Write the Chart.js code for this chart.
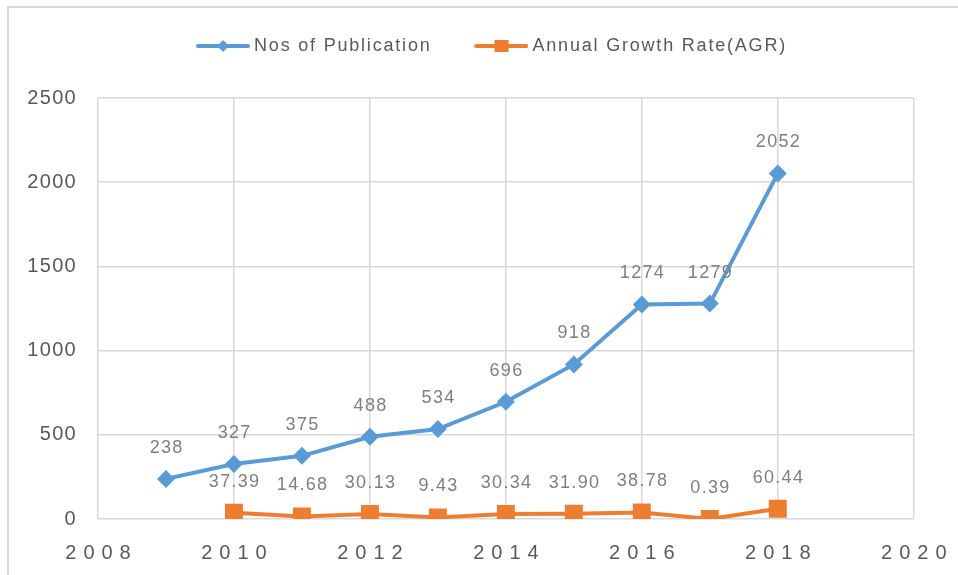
<!DOCTYPE html>
<html>
<head>
<meta charset="utf-8">
<script src="https://cdn.jsdelivr.net/npm/chart.js@4.4.1/dist/chart.umd.min.js"></script>
<style>
html, body { margin: 0; padding: 0; background: #fff; }
#wrap { width: 958px; height: 575px; }
</style>
</head>
<body>
<div id="wrap"><canvas id="chart"></canvas></div>
<script>
// データ
const seriesNames = ['Nos of Publication', 'Annual Growth Rate(AGR)'];
const pubYears = [2009, 2010, 2011, 2012, 2013, 2014, 2015, 2016, 2017, 2018];
const publications = [238, 327, 375, 488, 534, 696, 918, 1274, 1279, 2052];
const agrYears = [2010, 2011, 2012, 2013, 2014, 2015, 2016, 2017, 2018];
const agrValues = [37.39, 14.68, 30.13, 9.43, 30.34, 31.90, 38.78, 0.39, 60.44];
const xTicks = [2008, 2010, 2012, 2014, 2016, 2018, 2020];
const yTicks = [0, 500, 1000, 1500, 2000, 2500];

const BLUE = '#5B9BD5';
const ORANGE = '#ED7D31';
const FONT = '"Liberation Sans", Arial, sans-serif';

// 凡例のアイコン（線＋マーカー）
function legendIcon(color, shape) {
    const c = document.createElement('canvas');
    c.width = 54; c.height = 16;
    const g = c.getContext('2d');
    g.strokeStyle = color; g.lineWidth = 4; g.lineCap = 'round';
    g.beginPath(); g.moveTo(2, 8); g.lineTo(52, 8); g.stroke();
    g.fillStyle = color;
    if (shape === 'diamond') {
        g.beginPath();
        g.moveTo(27, 2); g.lineTo(33, 8); g.lineTo(27, 14); g.lineTo(21, 8);
        g.closePath(); g.fill();
    } else {
        g.fillRect(20, 2, 14, 12);
    }
    return c;
}
const icons = [legendIcon(BLUE, 'diamond'), legendIcon(ORANGE, 'square')];

// 外枠・文字間隔などの調整
const tweaks = {
    id: 'tweaks',
    beforeLayout(chart) {
        const lg = chart.legend;
        if (lg && !lg._tweaked) {
            const fit = lg.fit, draw = lg.draw;
            lg.fit = function() {
                this.ctx.save(); this.ctx.letterSpacing = '1.8px';
                fit.call(this);
                this.ctx.restore();
                this.height = 98;
            };
            lg.draw = function() {
                this.ctx.save(); this.ctx.letterSpacing = '1.8px';
                this.ctx.translate(37, -11);
                draw.call(this);
                this.ctx.restore();
            };
            lg._tweaked = true;
        }
    },
    beforeDraw(chart) {
        const ctx = chart.ctx;
        ctx.save();
        ctx.fillStyle = '#fff';
        ctx.fillRect(0, 0, chart.width, chart.height);
        ctx.strokeStyle = '#d9d9d9';
        ctx.lineWidth = 2;
        ctx.beginPath();
        ctx.moveTo(8, chart.height); ctx.lineTo(8, 7); ctx.lineTo(chart.width, 7);
        ctx.stroke();
        ctx.restore();
        [['x', '7px'], ['y', '1.3px']].forEach(([id, sp]) => {
            const s = chart.scales[id];
            if (s && !s._spaced) {
                const orig = s.drawLabels;
                s.drawLabels = function(a) {
                    this.ctx.save(); this.ctx.letterSpacing = sp;
                    orig.call(this, a);
                    this.ctx.restore();
                };
                s._spaced = true;
            }
        });
    }
};

// データラベル
const pointLabels = {
    id: 'pointLabels',
    afterDatasetsDraw(chart) {
        const ctx = chart.ctx;
        ctx.save();
        ctx.font = '18px ' + FONT;
        ctx.letterSpacing = '1.3px';
        ctx.fillStyle = '#7f7f7f';
        ctx.textAlign = 'center';
        ctx.textBaseline = 'middle';
        chart.data.datasets.forEach((ds, i) => {
            chart.getDatasetMeta(i).data.forEach((pt, j) => {
                const v = ds.data[j].y;
                const txt = i === 0 ? String(v) : v.toFixed(2);
                ctx.fillText(txt, pt.x + 0.65, pt.y - 31);
            });
        });
        ctx.restore();
    }
};

new Chart(document.getElementById('chart'), {
    type: 'line',
    data: {
        datasets: [{
            label: seriesNames[0],
            data: pubYears.map((x, i) => ({ x: x, y: publications[i] })),
            borderColor: BLUE,
            backgroundColor: BLUE,
            borderWidth: 4,
            pointStyle: 'rectRot',
            pointRadius: 9,
            pointBorderWidth: 0,
            tension: 0
        }, {
            label: seriesNames[1],
            data: agrYears.map((x, i) => ({ x: x, y: agrValues[i] })),
            borderColor: ORANGE,
            backgroundColor: ORANGE,
            borderWidth: 4,
            pointStyle: 'rect',
            pointRadius: 12.7,
            pointBorderWidth: 0,
            tension: 0
        }]
    },
    options: {
        responsive: true,
        maintainAspectRatio: false,
        animation: false,
        devicePixelRatio: 1,
        layout: { padding: { left: 0, right: 44, top: 0, bottom: 0 } },
        plugins: {
            tooltip: { enabled: false },
            legend: {
                position: 'top',
                labels: {
                    usePointStyle: true,
                    pointStyleWidth: 44,
                    padding: 48,
                    color: '#595959',
                    font: { family: FONT, size: 18 },
                    generateLabels: (chart) => chart.data.datasets.map((ds, i) => ({
                        text: ds.label,
                        pointStyle: icons[i],
                        fillStyle: ds.borderColor,
                        strokeStyle: ds.borderColor,
                        lineWidth: 0,
                        hidden: false,
                        datasetIndex: i,
                        fontColor: '#595959'
                    }))
                }
            }
        },
        scales: {
            x: {
                type: 'linear',
                min: 2008,
                max: 2020,
                afterBuildTicks: (s) => { s.ticks = xTicks.map(v => ({ value: v })); },
                afterFit: (s) => { s.height = 56; },
                grid: { color: '#d9d9d9', lineWidth: 1.5, drawTicks: false },
                border: { display: false },
                ticks: {
                    padding: 22,
                    labelOffset: 3.5,
                    maxRotation: 0,
                    color: '#595959',
                    font: { family: FONT, size: 20 },
                    callback: (v) => String(v)
                }
            },
            y: {
                min: 0,
                max: 2500,
                afterBuildTicks: (s) => { s.ticks = yTicks.map(v => ({ value: v })); },
                afterFit: (s) => { s.width = 98; },
                grid: { color: '#d9d9d9', lineWidth: 1.5, drawTicks: false },
                border: { display: false },
                ticks: {
                    padding: 21,
                    color: '#595959',
                    font: { family: FONT, size: 20 },
                    callback: (v) => String(v)
                }
            }
        }
    },
    plugins: [tweaks, pointLabels]
});
</script>
</body>
</html>
